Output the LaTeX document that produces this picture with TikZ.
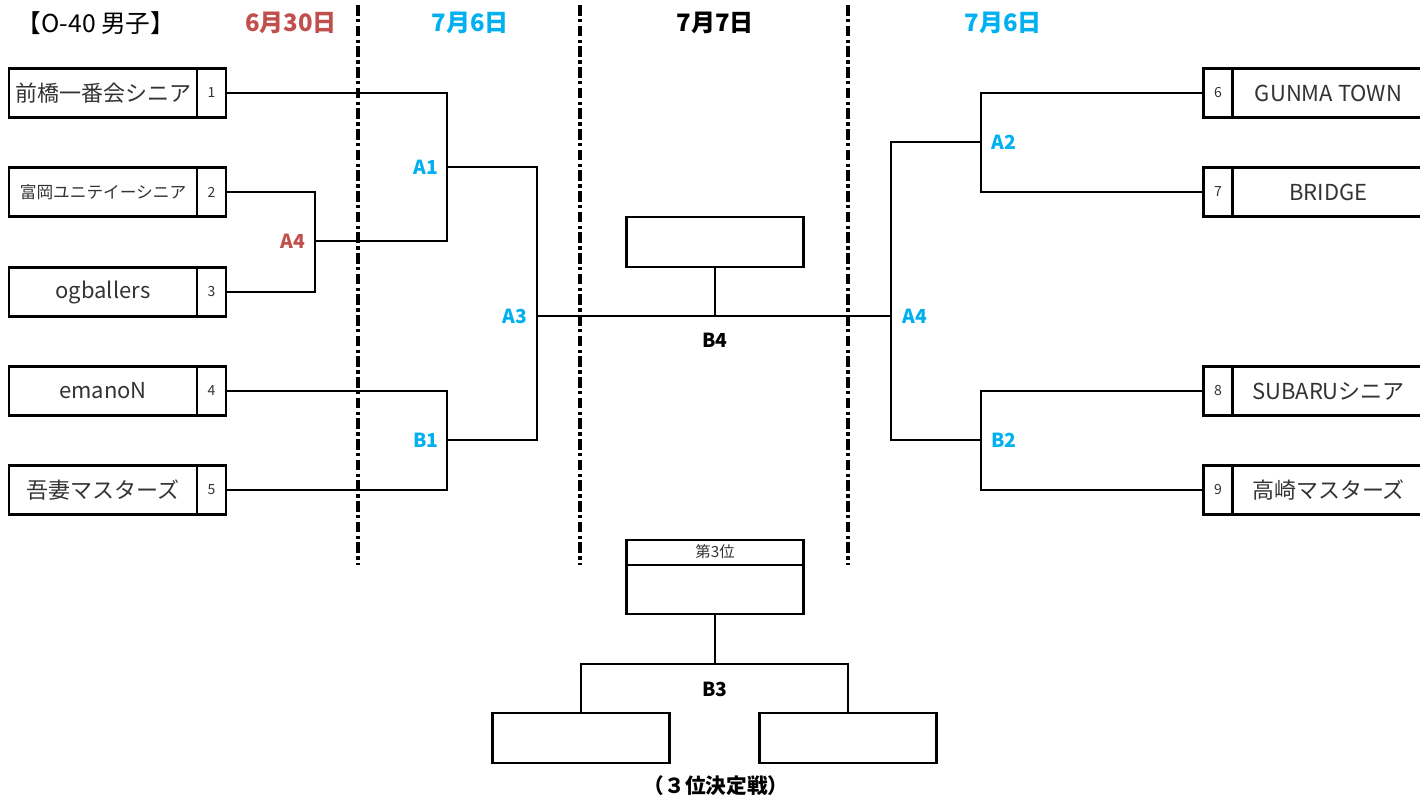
\documentclass[tikz,border=0pt]{standalone}
\usepackage{fontspec}
\setmainfont{Noto Sans CJK JP}
\usepackage{tikz}
\usetikzlibrary{positioning}
\definecolor{dayred}{HTML}{C0504D}
\definecolor{dayblue}{HTML}{00B0F0}
\tikzset{
  team node/.style={draw,rectangle,line width=1.9pt,outer sep=0pt,inner sep=0pt,minimum width=141pt,minimum height=36.75pt,text=black!80,font=\fontsize{16.5}{16.5}\selectfont},
  seed node/.style={draw,rectangle,line width=1.9pt,outer sep=0pt,inner sep=0pt,minimum width=21.75pt,minimum height=36.75pt,text=black!80,font=\fontsize{10.5}{10.5}\selectfont},
  result node/.style={draw,rectangle,line width=1.9pt,outer sep=0pt,minimum width=132.75pt,minimum height=37.5pt},
  game label/.style={font=\bfseries\fontsize{14.5}{14.5}\selectfont},
  day label/.style={font=\bfseries\fontsize{18}{18}\selectfont},
  day line/.style={line width=2.7pt,dash pattern=on 8pt off 2.5pt on 2.5pt off 2.5pt}
}
\begin{document}
\begin{tikzpicture}[x=0.75pt,y=-0.75pt,line width=1.4pt]
		    \useasboundingbox (0,0) rectangle (1420,798);
		    % headers
		    \node [font=\fontsize{18.5}{18.5}\selectfont] (title) at (96,23) {【O-40 男子】};
		    \node [day label,text=dayred] (d1) at (291,23) {6月30日};
		    \node [day label,text=dayblue] (d2) at (470,23) {7月6日};
		    \node [day label] (d3) at (715,23) {7月7日};
		    \node [day label,text=dayblue] (d4) at (1003,23) {7月6日};
		    \draw [day line] (358,5) -- (358,565);
		    \draw [day line] (580,5) -- (580,565);
		    \draw [day line] (848,5) -- (848,565);
		    % left side
		    \node [team node] (n1) at (103,93) {前橋一番会シニア};
		    \node [seed node,right=0pt of n1] (s1) {1};
		    \node [team node,font=\fontsize{12.5}{12.5}\selectfont] (n2) at (103,192) {富岡ユニテイーシニア};
		    \node [seed node,right=0pt of n2] (s2) {2};
		    \node [team node] (n3) at (103,292) {ogballers};
		    \node [seed node,right=0pt of n3] (s3) {3};
		    \node [team node] (n4) at (103,391) {emanoN};
		    \node [seed node,right=0pt of n4] (s4) {4};
		    \node [team node] (n5) at (103,490) {吾妻マスターズ};
		    \node [seed node,right=0pt of n5] (s5) {5};
		    % right side
		    \node [seed node] (s6) at (1218,93) {6};
		    \node [team node,minimum width=144pt,right=0pt of s6] (n6) {GUNMA TOWN};
		    \node [seed node] (s7) at (1218,192) {7};
		    \node [team node,minimum width=144pt,right=0pt of s7] (n7) {BRIDGE};
		    \node [seed node] (s8) at (1218,391) {8};
		    \node [team node,minimum width=144pt,right=0pt of s8] (n8) {SUBARUシニア};
		    \node [seed node] (s9) at (1218,490) {9};
		    \node [team node,minimum width=144pt,right=0pt of s9] (n9) {高崎マスターズ};
		    % junctions
		    \coordinate (a4) at (315,241);
		    \coordinate (a1) at (447,167);
		    \coordinate (b1) at (447,440);
		    \coordinate (a3) at (537,316);
		    \coordinate (b4) at (715,316);
		    \coordinate (a4r) at (891,316);
		    \coordinate (a2) at (981,142);
		    \coordinate (b2) at (981,440);
		    \coordinate (b3) at (715,664);
		    \draw (s2.east) -| (a4) |- (s3.east);
		    \draw (s1.east) -| (a1) |- (a4);
		    \draw (s4.east) -| (b1) |- (s5.east);
		    \draw (a1) -| (a3) |- (b1);
		    \draw (a3) -- (a4r);
		    \draw (a4r) |- (a2);
		    \draw (a4r) |- (b2);
		    \draw (s6.west) -| (a2) |- (s7.west);
		    \draw (s8.west) -| (b2) |- (s9.west);
		    % final
		    \node [result node] (final) at (715,242) {};
		    \draw (b4) -- (final.south);
		    % third place
		    \node [result node,minimum height=55.5pt] (third) at (715,577) {};
		    \draw [line width=1.9pt] (third.north west) ++(0,25) -- ++(177,0);
		    \node [text=black!80,font=\fontsize{11.5}{11.5}\selectfont] (thirdtitle) at (715,552) {第3位};
		    \node [result node] (l3) at (581,738) {};
		    \node [result node] (r3) at (848,738) {};
		    \draw (third.south) -- (b3);
		    \draw (l3.north) |- (b3);
		    \draw (r3.north) |- (b3);
		    % labels
		    \node [game label,text=dayred] (la4) at (293,241) {A4};
		    \node [game label,text=dayblue] (la1) at (426,167) {A1};
		    \node [game label,text=dayblue] (lb1) at (426,440) {B1};
		    \node [game label,text=dayblue] (la3) at (515,316) {A3};
		    \node [game label] (lb4) at (715,340) {B4};
		    \node [game label,text=dayblue] (la4r) at (915,316) {A4};
		    \node [game label,text=dayblue] (la2) at (1004,142) {A2};
		    \node [game label,text=dayblue] (lb2) at (1004,440) {B2};
		    \node [game label] (lb3) at (715,689) {B3};
		    \node [game label,font=\bfseries\fontsize{15.5}{15.5}\selectfont] (note) at (716,786) {（３位決定戦）};
\end{tikzpicture}
\end{document}
